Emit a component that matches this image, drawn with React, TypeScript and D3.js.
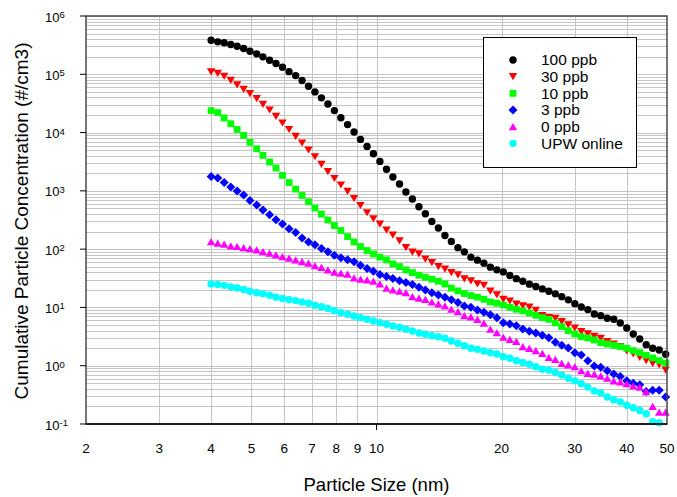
import React from 'react';
import * as d3 from 'd3';

// Particle size channels (nm)
const sizes = [4.00, 4.15, 4.30, 4.46, 4.62, 4.79, 4.96, 5.15, 5.33, 5.53, 5.73, 5.94, 6.16, 6.39, 6.62, 6.86, 7.11, 7.37, 7.64, 7.92, 8.21, 8.52, 8.83, 9.15, 9.49, 9.83, 10.19, 10.57, 10.95, 11.36, 11.77, 12.20, 12.65, 13.11, 13.59, 14.09, 14.61, 15.14, 15.70, 16.27, 16.87, 17.49, 18.13, 18.79, 19.48, 20.19, 20.93, 21.70, 22.49, 23.32, 24.17, 25.06, 25.98, 26.93, 27.91, 28.94, 30.00, 31.10, 32.24, 33.42, 34.64, 35.91, 37.23, 38.59, 40.00, 41.47, 42.99, 44.56, 46.19, 47.89, 49.64];

const ppb100 = [384000, 360000, 347000, 324000, 303000, 277000, 248000, 224000, 199000, 174000, 153000, 132000, 111000, 95000, 78000, 62200, 49900, 39400, 31000, 23800, 18000, 13700, 10200, 7640, 5790, 4340, 3200, 2350, 1730, 1310, 953, 723, 533, 405, 298, 230, 171, 135, 106, 89.9, 72.9, 64.7, 57.5, 49.1, 44.1, 40.7, 35.2, 31.2, 28.2, 25.1, 22.8, 20.8, 19.0, 17.1, 15.3, 13.5, 11.6, 10.2, 9.17, 7.73, 7.23, 6.52, 6.26, 5.42, 4.45, 3.51, 2.88, 2.30, 1.99, 1.86, 1.57];
const ppb30 = [110000, 104000, 92500, 78900, 65800, 55200, 46600, 38200, 30500, 24400, 19000, 14600, 11300, 8610, 6620, 5020, 3850, 2840, 2130, 1630, 1260, 977, 740, 561, 421, 332, 269, 212, 174, 139, 106, 88.7, 83, 67.3, 58.9, 50.2, 45.3, 39.6, 36.1, 30.9, 28.5, 25.3, 24.0, 19.0, 16.4, 13.8, 12.9, 11.4, 10.6, 10.1, 8.95, 7.23, 6.68, 6.47, 5.70, 5.00, 4.40, 3.84, 3.51, 3.20, 2.96, 2.58, 2.36, 2.12, 1.79, 1.59, 1.39, 1.22, 1.10, 1.03, 0.84];
const ppb10 = [23800, 22000, 17800, 14200, 11300, 8950, 6790, 5280, 4060, 3130, 2470, 1840, 1390, 1070, 834, 650, 506, 399, 316, 254, 209, 164, 133, 111, 94.6, 83.0, 72.9, 65.5, 55.9, 50.2, 44.1, 39.6, 35.7, 33.0, 30.5, 28.2, 25.3, 21.4, 19.2, 17.3, 16.0, 15.0, 13.8, 12.4, 11.8, 11.0, 10.1, 9.31, 8.71, 8.04, 7.35, 6.68, 6.26, 5.42, 4.68, 3.99, 3.51, 3.15, 2.99, 2.77, 2.48, 2.36, 2.24, 2.12, 1.99, 1.81, 1.67, 1.51, 1.36, 1.22, 1.11];
const ppb3 = [1770, 1660, 1390, 1160, 993, 847, 684, 570, 468, 388, 318, 269, 223, 193, 155, 132, 119, 103, 89.9, 78.9, 70.9, 65.5, 60.5, 53.1, 46.5, 41.9, 36.6, 33.8, 31.3, 28.8, 26.7, 24.7, 22.2, 20.0, 17.9, 16.3, 14.9, 13.5, 12.1, 10.6, 10.1, 9.06, 8.28, 7.52, 6.68, 5.48, 5.20, 4.86, 4.27, 3.90, 3.65, 3.33, 3.01, 2.53, 2.24, 2.01, 1.67, 1.53, 1.22, 0.99, 0.94, 0.82, 0.72, 0.65, 0.55, 0.50, 0.47, 0.36, 0.38, 0.38, 0.29];
const ppb0 = [135, 127, 122, 114, 111, 106, 102, 97.2, 90.9, 85.3, 79.8, 74.6, 70.0, 65.5, 61.2, 57.5, 52.3, 48.6, 44.1, 40.3, 38.7, 37.2, 32.1, 30.5, 29.7, 28.2, 25.3, 21.4, 20.0, 19.0, 17.9, 15.3, 14.4, 13.8, 12.4, 11.5, 10.6, 9.31, 8.47, 7.23, 6.87, 6.26, 5.36, 4.22, 3.69, 3.08, 2.84, 2.62, 2.12, 1.99, 1.81, 1.63, 1.39, 1.28, 1.10, 1.03, 0.96, 0.82, 0.74, 0.72, 0.67, 0.61, 0.55, 0.53, 0.49, 0.45, 0.43, 0.36, 0.20, 0.16, 0.16];
const upwOnline = [25.3, 24.8, 23.9, 22.5, 21.6, 20.4, 19.0, 17.9, 17.1, 16.2, 15.0, 14.2, 13.6, 13.1, 12.4, 11.8, 10.9, 10.3, 9.62, 8.81, 8.15, 7.64, 7.14, 6.68, 6.26, 5.86, 5.48, 5.14, 4.81, 4.57, 4.22, 3.94, 3.65, 3.47, 3.27, 3.15, 2.96, 2.65, 2.43, 2.21, 1.99, 1.91, 1.79, 1.67, 1.59, 1.43, 1.34, 1.22, 1.14, 1.06, 0.96, 0.87, 0.84, 0.77, 0.69, 0.61, 0.55, 0.49, 0.43, 0.37, 0.34, 0.29, 0.26, 0.24, 0.21, 0.19, 0.17, 0.15, 0.11, 0.105];

const seriesNames = ['100 ppb', '30 ppb', '10 ppb', '3 ppb', '0 ppb', 'UPW online'];
const seriesValues = [ppb100, ppb30, ppb10, ppb3, ppb0, upwOnline];
const seriesColors = ['#000000', '#ff0000', '#00ff00', '#0000ff', '#ff00ff', '#00ffff'];
const seriesShapes = ['circle', 'triDown', 'square', 'diamond', 'triUp', 'circle'];

const xTickLabels = [2, 3, 4, 5, 6, 7, 8, 9, 10, 20, 30, 40, 50];
const xGridValues = [3, 4, 5, 6, 7, 8, 9, 10, 20, 30, 40];
const yExponents = [-1, 0, 1, 2, 3, 4, 5, 6];

const W = 677;
const H = 497;
const PL = 86;
const PR = 667;
const PT = 16;
const PB = 424;
const FONT = '"Liberation Sans", Arial, Helvetica, sans-serif';

function markerPath(shape: string): string {
  switch (shape) {
    case 'circle':
      return d3.symbol(d3.symbolCircle, Math.PI * 3.7 * 3.7)() as string;
    case 'triDown':
      return 'M-4.2,-3.6L4.2,-3.6L0,3.6Z';
    case 'triUp':
      return 'M0,-3.6L4.2,3.6L-4.2,3.6Z';
    case 'square':
      return 'M-3.4,-3.4H3.4V3.4H-3.4Z';
    case 'diamond':
      return 'M0,-4.5L4.5,0L0,4.5L-4.5,0Z';
    default:
      return '';
  }
}

export default function App() {
  const x = d3.scaleLog().domain([2, 50]).range([PL, PR]);
  const y = d3.scaleLog().domain([0.1, 1e6]).range([PB, PT]);

  const hGrid: number[] = [];
  for (let e = -1; e <= 5; e++) {
    for (let m = 1; m <= 9; m++) {
      const v = m * Math.pow(10, e);
      if (v > 0.1) hGrid.push(v);
    }
  }
  hGrid.push(1e6);

  const legendX = 483.5;
  const legendY = 37.5;
  const rowH = 16.67;

  return (
    <svg
      width={W}
      height={H}
      style={{ position: 'absolute', left: 0, top: 0, background: '#fff' }}
      fontFamily={FONT}
    >
      <rect x={0} y={0} width={W} height={H} fill="#fff" />
      {/* grid */}
      <g stroke="#c4c4c4" strokeWidth={1} shapeRendering="crispEdges">
        {hGrid.map((v, i) => (
          <line key={'h' + i} x1={PL} x2={PR} y1={Math.round(y(v)) + 0.5} y2={Math.round(y(v)) + 0.5} />
        ))}
        {xGridValues.map((v, i) => (
          <line key={'v' + i} x1={Math.round(x(v)) + 0.5} x2={Math.round(x(v)) + 0.5} y1={PT} y2={PB} />
        ))}
      </g>
      {/* series */}
      {seriesValues.map((vals, si) => {
        const p = markerPath(seriesShapes[si]);
        return (
          <g key={'s' + si} fill={seriesColors[si]}>
            {vals.map((v, i) => (
              <path key={i} d={p} transform={`translate(${x(sizes[i])},${y(v)})`} />
            ))}
          </g>
        );
      })}
      {/* plot frame */}
      <rect x={PL} y={PT} width={PR - PL} height={PB - PT} fill="none" stroke="#4a4a4a" strokeWidth={1.5} />
      <line x1={PL} x2={PR} y1={PB} y2={PB} stroke="#000" strokeWidth={1.5} />
      {/* y ticks */}
      {yExponents.map((e) => {
        const yy = y(Math.pow(10, e));
        return (
          <g key={'yt' + e}>
            <line x1={PL - 6} x2={PL} y1={yy} y2={yy} stroke="#000" strokeWidth={1} />
            <text x={45} y={yy + 5.5} fontSize={13} fill="#000">
              <tspan>10</tspan>
              <tspan dy={-3.5} fontSize={9.5}>{String(e)}</tspan>
            </text>
          </g>
        );
      })}
      {/* x tick at 10 */}
      <line x1={x(10)} x2={x(10)} y1={PB} y2={PB + 6} stroke="#000" strokeWidth={1} />
      {xTickLabels.map((v) => (
        <text key={'xt' + v} x={x(v)} y={452.5} fontSize={13.5} textAnchor="middle" fill="#000">
          {String(v)}
        </text>
      ))}
      {/* axis titles */}
      <text x={(PL + PR) / 2} y={491} fontSize={18.5} textAnchor="middle" fill="#000">
        Particle Size (nm)
      </text>
      <text
        transform={`translate(28,221) rotate(-90)`}
        fontSize={19}
        textAnchor="middle"
        fill="#000"
      >
        Cumulative Particle Concentration (#/cm3)
      </text>
      {/* legend */}
      <rect x={legendX} y={legendY} width={153} height={130} fill="#fff" stroke="#000" strokeWidth={1} />
      {seriesNames.map((name, i) => {
        const yy = 60 + i * rowH;
        return (
          <g key={'lg' + i}>
            <path d={markerPath(seriesShapes[i])} transform={`translate(513,${yy})`} fill={seriesColors[i]} />
            <text x={541} y={yy} dy="0.35em" fontSize={15.5} fill="#000">
              {name}
            </text>
          </g>
        );
      })}
    </svg>
  );
}
